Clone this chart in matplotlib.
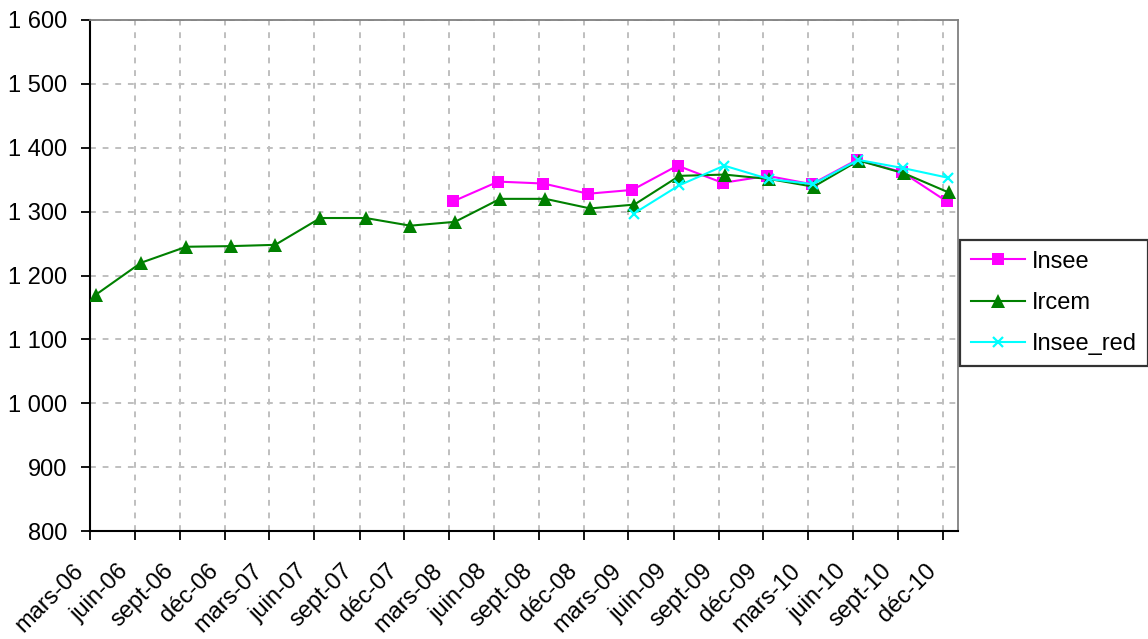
import matplotlib
matplotlib.use("Agg")
import matplotlib.pyplot as plt
import matplotlib.transforms as mtransforms
from datetime import date

plt.rcParams['font.family'] = ['Liberation Sans', 'DejaVu Sans']

# ---- data ----
quarter_labels = ['mars-06', 'juin-06', 'sept-06', 'déc-06',
                  'mars-07', 'juin-07', 'sept-07', 'déc-07',
                  'mars-08', 'juin-08', 'sept-08', 'déc-08',
                  'mars-09', 'juin-09', 'sept-09', 'déc-09',
                  'mars-10', 'juin-10', 'sept-10', 'déc-10']
quarter_years = [2006]*4 + [2007]*4 + [2008]*4 + [2009]*4 + [2010]*4
quarter_months = [3, 6, 9, 12] * 5

ircem = [1170, 1220, 1245, 1246, 1248, 1290, 1290, 1278,
         1284, 1320, 1320, 1305, 1311, 1356, 1358, 1351,
         1339, 1380, 1360, 1330]
insee = [1316, 1347, 1344, 1328, 1334, 1372, 1345, 1356,
         1343, 1381, 1362, 1316]          # from mars-08
insee_red = [1297, 1341, 1372, 1351, 1343, 1381, 1368, 1353]  # from mars-09

# observation day within the quarter's month
insee_day = 9
ircem_day = 13
insee_red_day = 12

y_ticks = [800, 900, 1000, 1100, 1200, 1300, 1400, 1500, 1600]
y_tick_labels = ['800', '900', '1 000', '1 100', '1 200', '1 300',
                 '1 400', '1 500', '1 600']

tick_dates = [date(y, m, 1) for y, m in zip(quarter_years, quarter_months)]
ircem_dates = [date(y, m, ircem_day) for y, m in zip(quarter_years, quarter_months)]
insee_dates = [date(y, m, insee_day) for y, m in zip(quarter_years, quarter_months)][8:]
insee_red_dates = [date(y, m, insee_red_day) for y, m in zip(quarter_years, quarter_months)][12:]

# ---- figure ----
fig = plt.figure(figsize=(11.48, 6.39), dpi=100)
ax = fig.add_axes([90/1148, 1 - 531/639, (958-90)/1148, (531-20)/639])

ax.plot(insee_dates, insee, color='#FF00FF', lw=1.5, marker='s',
        markersize=8.5, markeredgewidth=0, label='Insee', zorder=3)
ax.plot(ircem_dates, ircem, color='#008000', lw=1.5, marker='^',
        markersize=9.5, markeredgewidth=0, label='Ircem', zorder=4)
ax.plot(insee_red_dates, insee_red, color='#00FFFF', lw=1.5, marker='x',
        markersize=7.5, markeredgewidth=1.6, label='Insee_red', zorder=5)

ax.set_xlim(date(2006, 3, 1), date(2011, 1, 1))
ax.set_ylim(800, 1600)
ax.set_yticks(y_ticks)
ax.set_yticklabels(y_tick_labels, fontsize=17)
ax.set_xticks(tick_dates)
ax.set_xticklabels(quarter_labels, fontsize=17, rotation=45,
                   ha='right', va='center', rotation_mode='anchor')

ax.grid(True, color='#BFBFBF', linestyle=(0, (3, 3.5)), linewidth=1.4)
ax.set_axisbelow(True)
ax.tick_params(axis='both', direction='out', length=6.5, width=1.3,
               color='black')
ax.tick_params(axis='y', pad=10)
ax.tick_params(axis='x', pad=20)

shift = mtransforms.ScaledTranslation(-10/100, 0, fig.dpi_scale_trans)
for lbl in ax.get_xticklabels():
    lbl.set_transform(lbl.get_transform() + shift)

for s in ['left', 'bottom']:
    ax.spines[s].set_color('black')
    ax.spines[s].set_linewidth(1.5)
for s in ['top', 'right']:
    ax.spines[s].set_color('#808080')
    ax.spines[s].set_linewidth(1.3)

leg = ax.legend(loc='upper left', bbox_to_anchor=(960/1148, 1 - 240/639),
                bbox_transform=fig.transFigure, fontsize=17, frameon=True,
                fancybox=False, edgecolor='black', handlelength=2.3,
                borderpad=0.45, labelspacing=0.82, handletextpad=0.3,
                borderaxespad=0, markerscale=1.0)
leg.get_frame().set_linewidth(1.6)

fig.savefig('out.png', dpi=100)
